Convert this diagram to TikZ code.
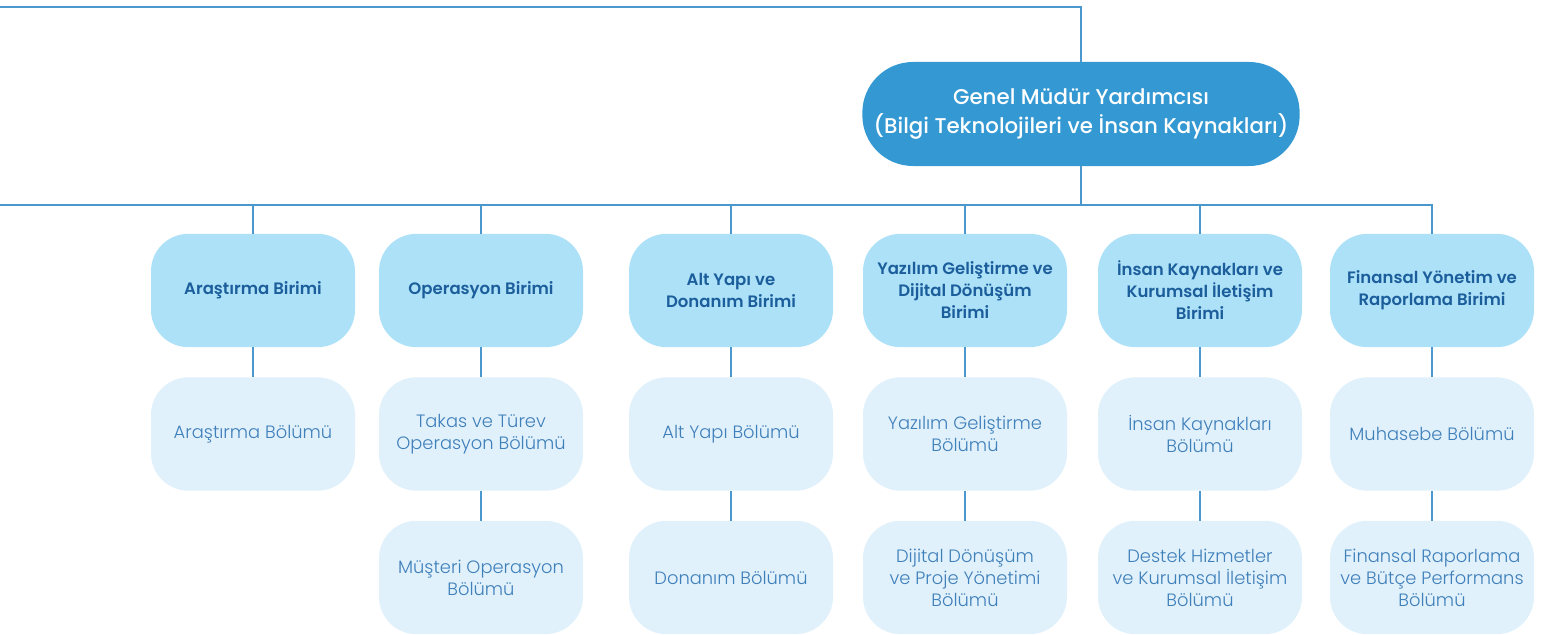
\documentclass[tikz,border=0pt]{standalone}
\usepackage{fontspec}
\setmainfont{Poppins}[BoldFont={Poppins SemiBold}]
\newfontfamily\lightfont{Poppins Light}
\newfontfamily\mediumfont{Poppins Medium}
\usepackage{tikz}
\usetikzlibrary{positioning}
\definecolor{gmblue}{HTML}{3499D2}
\definecolor{unitblue}{HTML}{ADE1F8}
\definecolor{deptblue}{HTML}{E0F1FB}
\definecolor{unittext}{HTML}{1B5E9B}
\definecolor{depttext}{HTML}{3F7FBA}
\definecolor{linkblue}{HTML}{4A98CD}

\begin{document}
\begin{tikzpicture}[x=0.75pt,y=-0.75pt,
    gm/.style={fill=gmblue,text=white,rounded corners=38pt,minimum width=328pt,minimum height=78pt,align=center,font=\fontsize{16}{21.75}\selectfont\mediumfont},
    unit/.style={fill=unitblue,text=unittext,rounded corners=28pt,minimum width=153pt,minimum height=85pt,align=center,font=\fontsize{12.4}{16.5}\selectfont\bfseries},
    dept/.style={fill=deptblue,text=depttext,rounded corners=28pt,minimum width=153pt,minimum height=85pt,align=center,font=\fontsize{13.4}{16.5}\selectfont\lightfont},
    link/.style={draw=linkblue,line width=0.9pt}]
    \useasboundingbox (0,0) rectangle (1557,635);
    \node[gm] (gmy) at (1081,114) {Genel Müdür Yardımcısı\\(Bilgi Teknolojileri ve İnsan Kaynakları)};

    \node[unit] (u1) at (253,290.5) {Araştırma Birimi};
    \node[unit] (u2) at (481,290.5) {Operasyon Birimi};
    \node[unit] (u3) at (731,290.5) {Alt Yapı ve\\Donanım Birimi};
    \node[unit] (u4) at (965,290.5) {Yazılım Geliştirme ve\\Dijital Dönüşüm\\Birimi};
    \node[unit] (u5) at (1200,290.5) {İnsan Kaynakları ve\\Kurumsal İletişim\\Birimi};
    \node[unit] (u6) at (1432,290.5) {Finansal Yönetim ve\\Raporlama Birimi};

    \node[dept] (d1) at (253,434) {Araştırma Bölümü};
    \node[dept] (d2) at (481,434) {Takas ve Türev\\Operasyon Bölümü};
    \node[dept] (d3) at (731,434) {Alt Yapı Bölümü};
    \node[dept] (d4) at (965,434) {Yazılım Geliştirme\\Bölümü};
    \node[dept] (d5) at (1200,434) {İnsan Kaynakları\\Bölümü};
    \node[dept] (d6) at (1432,434) {Muhasebe Bölümü};

    \node[dept] (e2) at (481,577.5) {Müşteri Operasyon\\Bölümü};
    \node[dept] (e3) at (731,577.5) {Donanım Bölümü};
    \node[dept] (e4) at (965,577.5) {Dijital Dönüşüm\\ve Proje Yönetimi\\Bölümü};
    \node[dept] (e5) at (1200,577.5) {Destek Hizmetler\\ve Kurumsal İletişim\\Bölümü};
    \node[dept] (e6) at (1432,577.5) {Finansal Raporlama\\ve Bütçe Performans\\Bölümü};

    \coordinate (top) at (0,7);
    \coordinate (bus) at (0,205);
    \draw[link] (top) -| (gmy.north);
    \draw[link] (gmy.south) -- (gmy.south |- bus);
    \draw[link] (bus) -| (u6.north);
    \foreach \u in {u1,u2,u3,u4,u5}
        \draw[link] (\u.north) -- (\u.north |- bus);
    \foreach \i in {1,...,6}
        \draw[link] (u\i) -- (d\i);
    \foreach \i in {2,...,6}
        \draw[link] (d\i) -- (e\i);
\end{tikzpicture}
\end{document}
